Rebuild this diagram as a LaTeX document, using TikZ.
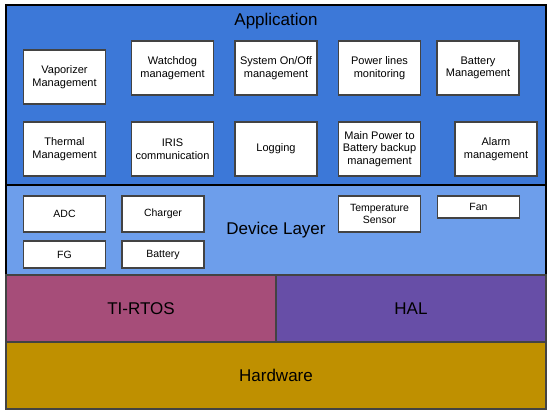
\documentclass[tikz,border=0pt]{standalone}
\usepackage{fontspec}
\setmainfont{Liberation Sans}
\usepackage{tikz}
\usepackage{xcolor}
\usetikzlibrary{positioning}
\definecolor{appblue}{HTML}{3C78D8}
\definecolor{devblue}{HTML}{6D9EEB}
\definecolor{rtospink}{HTML}{A64D79}
\definecolor{halpurple}{HTML}{674EA7}
\definecolor{hwgold}{HTML}{BF9000}
\definecolor{boxgray}{HTML}{434343}
\tikzstyle{layer} = [rectangle, draw=black, line width=1.5pt, inner sep=0pt, font=\fontsize{17}{20}\selectfont]
\tikzstyle{base} = [rectangle, draw=boxgray, line width=1.5pt, inner sep=0pt, font=\fontsize{17}{20}\selectfont]
\tikzstyle{appbox} = [rectangle, draw=boxgray, fill=white, line width=1.5pt, align=center, minimum width=82, minimum height=54, inner sep=0pt, font=\fontsize{11}{12.7}\selectfont]
\tikzstyle{devbox} = [rectangle, draw=boxgray, fill=white, line width=1.5pt, align=center, minimum width=82, minimum height=36, inner sep=0pt, font=\fontsize{10.5}{11.7}\selectfont]

\begin{document}
\begin{tikzpicture}[x=1pt, y=-1pt]
    \useasboundingbox (0,0) rectangle (551,417);
    % Layers
    \node [layer, fill=appblue, minimum width=540, minimum height=180] (app) at (276,95) {};
    \node [layer, fill=devblue, minimum width=540, minimum height=90] (dev) at (276,230) {Device Layer};
    \node [base, fill=rtospink, minimum width=270, minimum height=67] (rtos) at (141,308.5) {TI-RTOS};
    \node [base, fill=halpurple, minimum width=270, minimum height=67] (hal) at (411,308.5) {HAL};
    \node [base, fill=hwgold, minimum width=540, minimum height=67] (hw) at (276,375.5) {Hardware};
    \node [font=\fontsize{17}{20}\selectfont] (apptitle) at (276,21.5) {Application};
    % Application blocks
    \node [appbox] (vapor) at (64.5,77) {Vaporizer\\Management};
    \node [appbox] (watchdog) at (172.5,68) {Watchdog\\management};
    \node [appbox] (onoff) at (276,68) {System On/Off\\management};
    \node [appbox] (powerlines) at (379.5,68) {Power lines\\monitoring};
    \node [appbox] (battmgmt) at (478,68) {Battery\\Management};
    \node [appbox] (thermal) at (64.5,149) {Thermal\\Management};
    \node [appbox] (iris) at (172.5,149) {IRIS\\communication};
    \node [appbox] (logging) at (276,149) {Logging};
    \node [appbox] (mainpower) at (379.5,149) {Main Power to\\Battery backup\\management};
    \node [appbox] (alarm) at (496,149) {Alarm\\management};
    % Device blocks
    \node [devbox] (adc) at (64.5,214) {ADC};
    \node [devbox] (charger) at (163,214) {Charger};
    \node [devbox, minimum height=27] (fg) at (64.5,254.5) {FG};
    \node [devbox, minimum height=27] (battery) at (163,254.5) {Battery};
    \node [devbox] (tempsensor) at (379.5,214) {Temperature\\Sensor};
    \node [devbox, minimum height=22] (fan) at (478.5,207) {Fan};
\end{tikzpicture}
\end{document}
